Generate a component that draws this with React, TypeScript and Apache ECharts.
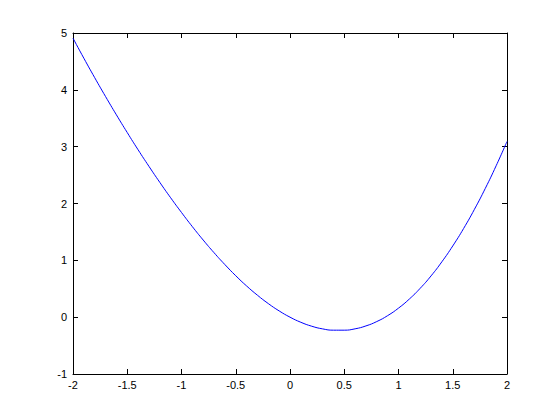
import React, { useEffect, useRef } from "react";
import * as echarts from "echarts";

const xValues = [
  -2.0, -1.9, -1.8, -1.7, -1.6, -1.5, -1.4, -1.3, -1.2, -1.1, -1.0, -0.9, -0.8, -0.7, -0.6, -0.5, -0.4, -0.3, -0.2, -0.1,
  0.0, 0.1, 0.2, 0.3, 0.4, 0.5, 0.6, 0.7, 0.8, 0.9, 1.0, 1.1, 1.2, 1.3, 1.4, 1.5, 1.6, 1.7, 1.8, 1.9, 2.0,
];
const yValues = [
  4.909, 4.556, 4.214, 3.882, 3.56, 3.248, 2.945, 2.654, 2.372, 2.101, 1.842, 1.593, 1.357, 1.134, 0.925, 0.729, 0.549, 0.386, 0.239, 0.11,
  0.0, -0.09, -0.159, -0.206, -0.229, -0.229, -0.205, -0.154, -0.077, 0.027, 0.159, 0.319, 0.508, 0.726, 0.975, 1.253, 1.56, 1.898, 2.266, 2.664, 3.091,
];
const xTicks = [-2, -1.5, -1, -0.5, 0, 0.5, 1, 1.5, 2];
const yTicks = [-1, 0, 1, 2, 3, 4, 5];

export default function App() {
  const ref = useRef<HTMLDivElement>(null);
  useEffect(() => {
    if (!ref.current) return;
    const chart = echarts.init(ref.current, null, { renderer: "svg" });
    const data = xValues.map((x, i) => [x, yValues[i]]);
    const axisLine = { show: true, onZero: false, lineStyle: { color: "#000", width: 1 } };
    const tickStyle = { show: true, inside: true, length: 5, lineStyle: { color: "#000" } };
    const label = { color: "#000", fontSize: 11, fontFamily: "Liberation Sans, Arial, sans-serif" };
    chart.setOption({
      animation: false,
      backgroundColor: "#fff",
      grid: { left: 73, top: 33, right: 53, bottom: 46, containLabel: false },
      xAxis: [
        {
          type: "value",
          min: xTicks[0],
          max: xTicks[xTicks.length - 1],
          interval: 0.5,
          position: "bottom",
          axisLine,
          axisTick: tickStyle,
          splitLine: { show: false },
          axisLabel: { ...label, margin: 5, formatter: (v: number) => String(v) },
        },
        {
          type: "value",
          min: xTicks[0],
          max: xTicks[xTicks.length - 1],
          interval: 0.5,
          position: "top",
          axisLine,
          axisTick: tickStyle,
          splitLine: { show: false },
          axisLabel: { show: false },
        },
      ],
      yAxis: [
        {
          type: "value",
          min: yTicks[0],
          max: yTicks[yTicks.length - 1],
          interval: 1,
          position: "left",
          axisLine,
          axisTick: tickStyle,
          splitLine: { show: false },
          axisLabel: { ...label, margin: 6 },
        },
        {
          type: "value",
          min: yTicks[0],
          max: yTicks[yTicks.length - 1],
          interval: 1,
          position: "right",
          axisLine,
          axisTick: tickStyle,
          splitLine: { show: false },
          axisLabel: { show: false },
        },
      ],
      series: [
        {
          type: "line",
          data,
          smooth: true,
          showSymbol: false,
          lineStyle: { color: "#0000ff", width: 1 },
          xAxisIndex: 0,
          yAxisIndex: 0,
        },
      ],
    });
    return () => chart.dispose();
  }, []);
  return <div ref={ref} style={{ width: 560, height: 420, position: "absolute", left: 0, top: 0 }} />;
}
